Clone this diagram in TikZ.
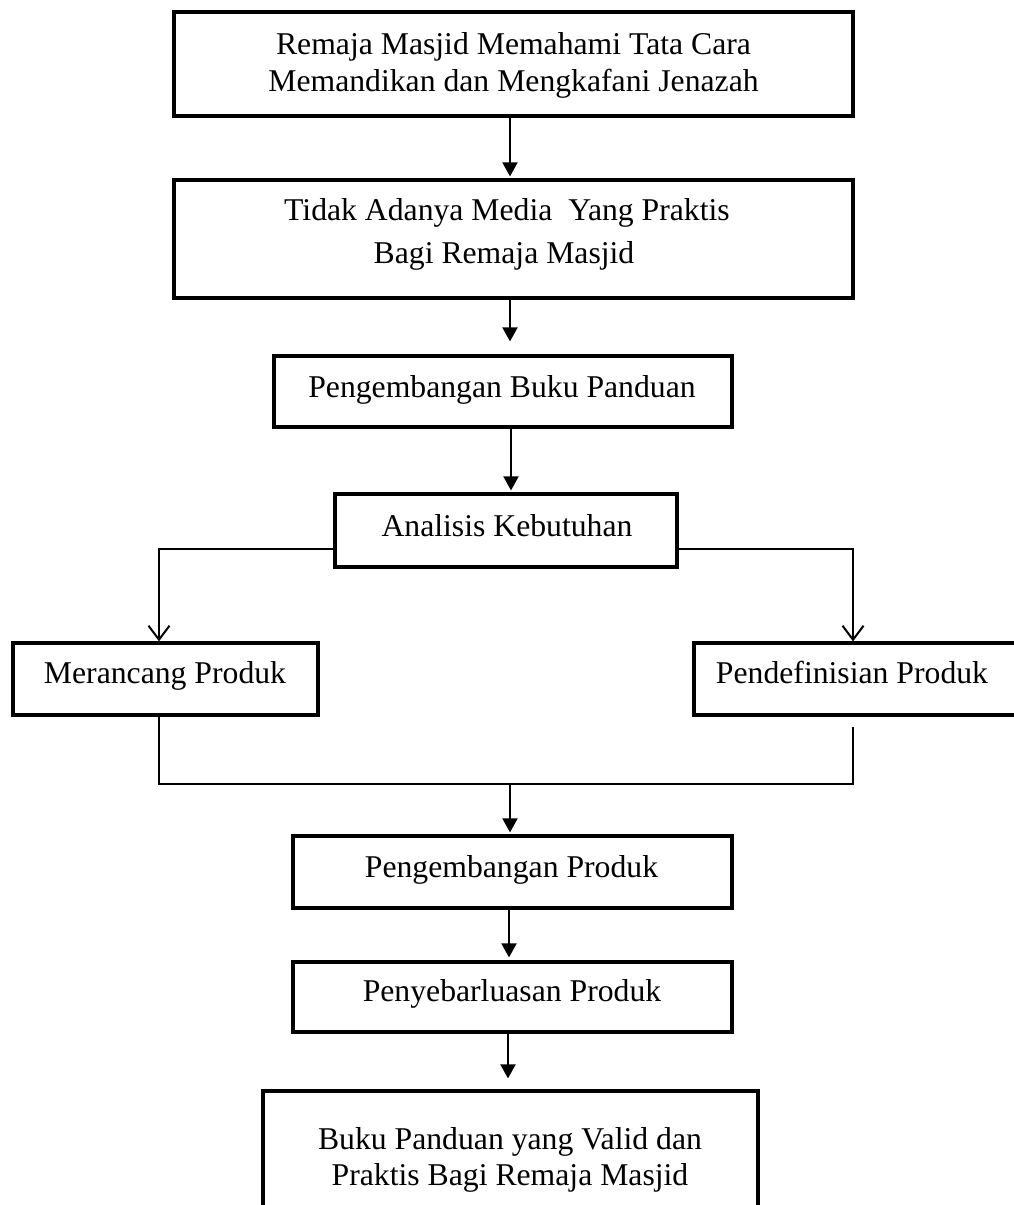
\documentclass[tikz,border=0pt]{standalone}
\usepackage{fontspec}
\setmainfont{Liberation Serif}
\usetikzlibrary{arrows.meta}
\begin{document}
\begin{tikzpicture}[x=1pt,y=-1pt,
  box/.style={draw, line width=3.2pt, rectangle, inner sep=0pt},
  txt/.style={anchor=base, inner sep=0pt, font=\fontsize{31.7}{38}\selectfont},
  conn/.style={line width=2pt},
  arr/.style={conn, -{Triangle[width=15pt,length=14pt]}},
  openarr/.style={conn, -{Straight Barb[width=21pt,length=14pt]}}]
\useasboundingbox (0,0) rectangle (1014,1205);
\clip (0,0) rectangle (1014,1205);
% boxes
\node[box, minimum width=679pt, minimum height=104pt] (b1) at (513.5,64) {};
\node[box, minimum width=679pt, minimum height=118pt] (b2) at (513.5,239) {};
\node[box, minimum width=458pt, minimum height=71pt] (b3) at (503,391.5) {};
\node[box, minimum width=342pt, minimum height=73pt] (b4) at (506,530.5) {};
\node[box, minimum width=305pt, minimum height=72pt] (mer) at (165.5,679) {};
\node[box, minimum width=326pt, minimum height=72pt] (pen) at (857,679) {};
\node[box, minimum width=439pt, minimum height=72pt] (b5) at (512.5,872) {};
\node[box, minimum width=439pt, minimum height=70pt] (b6) at (512.5,997) {};
\node[box, minimum width=495pt, minimum height=139pt] (b7) at (510.5,1160.5) {};
% texts
\node[txt] (t1a) at (513.5,54) {Remaja Masjid Memahami Tata Cara};
\node[txt] (t1b) at (513.5,91) {Memandikan dan Mengkafani Jenazah};
\node[txt] (t2a) at (507,220) {Tidak Adanya Media\ \ Yang Praktis};
\node[txt] (t2b) at (504,263) {Bagi Remaja Masjid};
\node[txt] (t3) at (502,397) {Pengembangan Buku Panduan};
\node[txt] (t4) at (507,536) {Analisis Kebutuhan};
\node[txt] (tm) at (165,683) {Merancang Produk};
\node[txt] (tp) at (852,683) {Pendefinisian Produk};
\node[txt] (t5) at (511.5,877) {Pengembangan Produk};
\node[txt] (t6) at (512,1001) {Penyebarluasan Produk};
\node[txt] (t7a) at (510,1149) {Buku Panduan yang Valid dan};
\node[txt] (t7b) at (510,1185) {Praktis Bagi Remaja Masjid};
% connectors
\draw[arr, shorten >=2pt] ([xshift=-3.5pt]b1.south) -- ([xshift=-3.5pt]b1.south |- b2.north);
\draw[arr, shorten >=13pt] ([xshift=-3.5pt]b2.south) -- ([xshift=-3.5pt]b2.south |- b3.north);
\draw[arr, shorten >=2pt] ([xshift=8pt]b3.south) -- ([xshift=8pt]b3.south |- b4.north);
\draw[openarr] ([yshift=-18.5pt]b4.west) -| ([xshift=-6.5pt]mer.north);
\draw[openarr] ([yshift=-18.5pt]b4.east) -| ([xshift=-4pt]pen.north);
\coordinate (j) at (510,784);
\draw[conn] ([xshift=-6.5pt]mer.south) |- (j) -| ([xshift=-4pt,yshift=-10pt]pen.south);
\draw[arr, shorten >=2pt] (j) -- (j |- b5.north);
\draw[arr, shorten >=3pt] ([xshift=-3.5pt]b5.south) -- ([xshift=-3.5pt]b5.south |- b6.north);
\draw[arr, shorten >=11pt] ([xshift=-4.5pt]b6.south) -- ([xshift=-4.5pt]b6.south |- b7.north);
\end{tikzpicture}
\end{document}
